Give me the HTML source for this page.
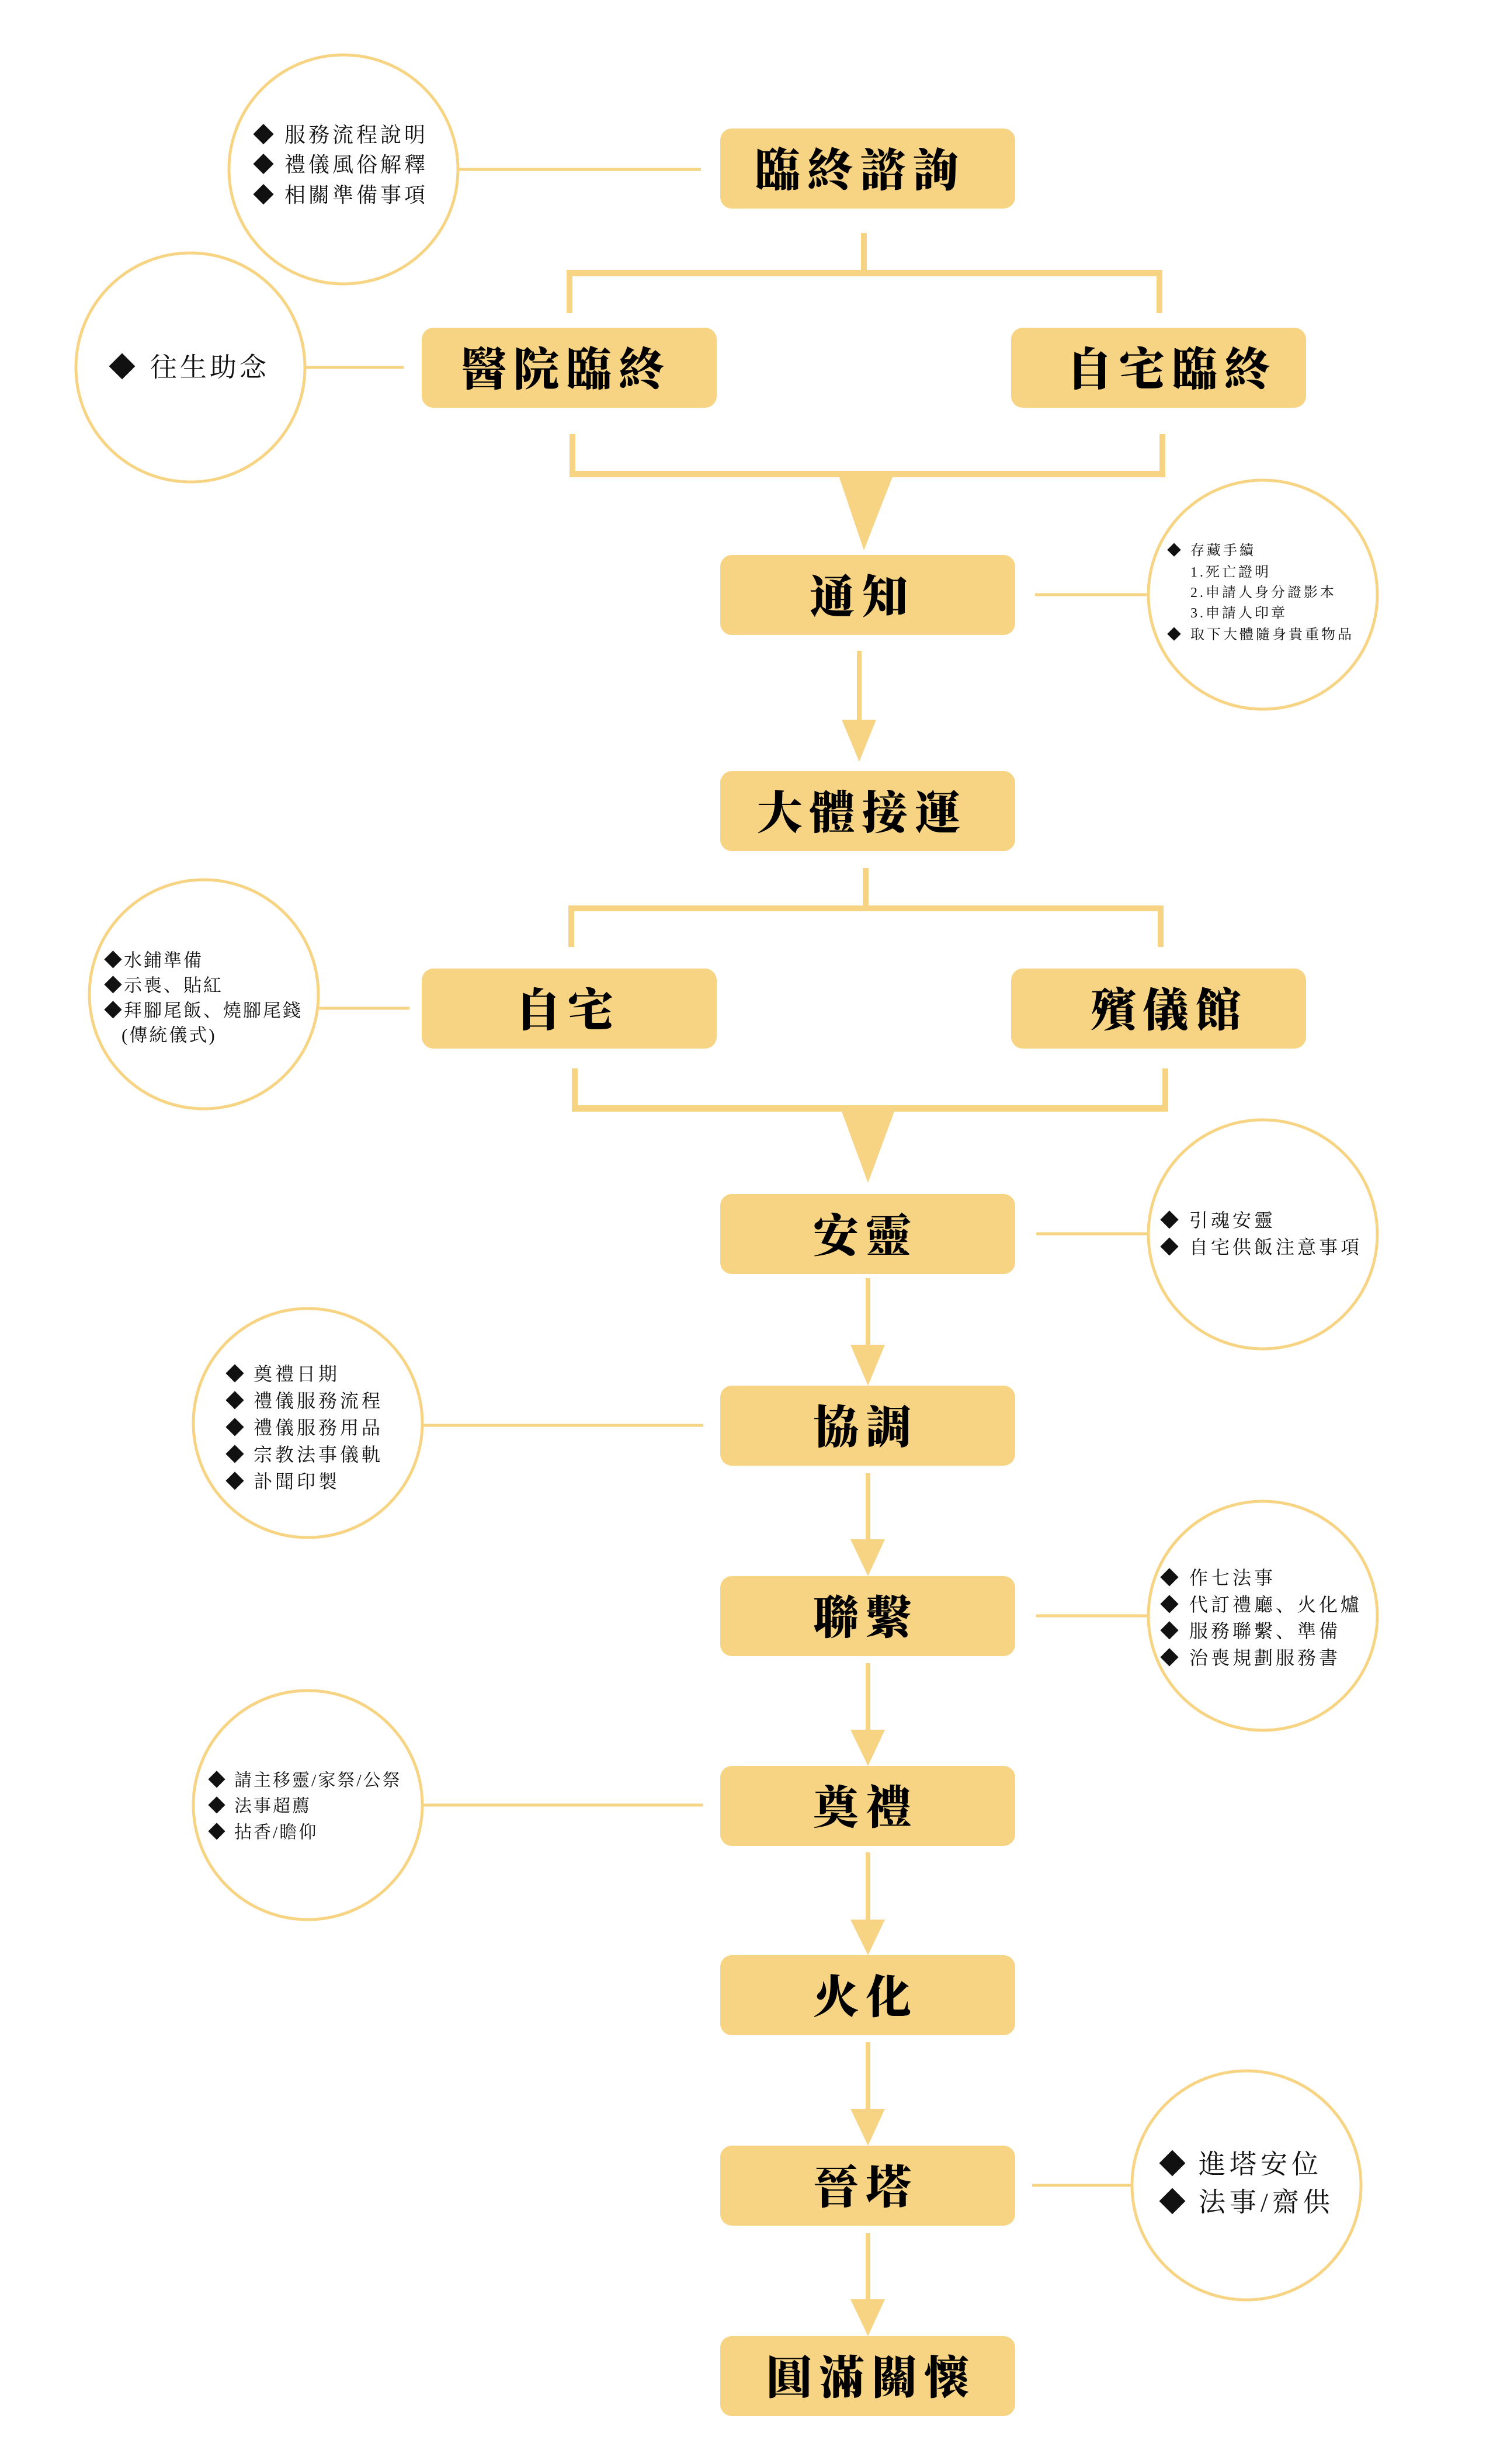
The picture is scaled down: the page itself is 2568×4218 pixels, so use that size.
<!DOCTYPE html>
<html><head><meta charset="utf-8"><style>
html,body{margin:0;padding:0;background:#fff;}
svg{display:block;}
.b{font-family:"Liberation Serif","Noto Serif CJK SC","Noto Serif CJK TC",serif;font-weight:900;font-size:78px;fill:#000;}
.s{font-family:"Liberation Serif","Noto Serif CJK SC","Noto Serif CJK TC",serif;fill:#111;}
</style></head><body>
<svg width="2568" height="4218" viewBox="0 0 2568 4218" xmlns="http://www.w3.org/2000/svg">
<g fill="#F7D483">
<rect x="1233" y="220" width="505" height="137" rx="20"/>
<rect x="722" y="561" width="505" height="137" rx="20"/>
<rect x="1731" y="561" width="505" height="137" rx="20"/>
<rect x="1233" y="950" width="505" height="137" rx="20"/>
<rect x="1233" y="1320" width="505" height="137" rx="20"/>
<rect x="722" y="1658" width="505" height="137" rx="20"/>
<rect x="1731" y="1658" width="505" height="137" rx="20"/>
<rect x="1233" y="2044" width="505" height="137" rx="20"/>
<rect x="1233" y="2372" width="505" height="137" rx="20"/>
<rect x="1233" y="2698" width="505" height="137" rx="20"/>
<rect x="1233" y="3023" width="505" height="137" rx="20"/>
<rect x="1233" y="3347" width="505" height="137" rx="20"/>
<rect x="1233" y="3673" width="505" height="137" rx="20"/>
<rect x="1233" y="3999" width="505" height="137" rx="20"/>
<rect x="1474" y="399" width="10" height="68"/>
<rect x="970" y="462" width="1020" height="11"/>
<rect x="970" y="462" width="10" height="74"/>
<rect x="1980" y="462" width="10" height="74"/>
<rect x="975" y="743" width="10" height="74"/>
<rect x="1985" y="743" width="10" height="74"/>
<rect x="975" y="806" width="1020" height="11"/>
<polygon points="1433,806 1532,806 1479,942"/>
<rect x="1477" y="1486" width="10" height="70"/>
<rect x="973" y="1550" width="1019" height="10"/>
<rect x="973" y="1550" width="10" height="71"/>
<rect x="1982" y="1550" width="10" height="71"/>
<rect x="979" y="1829" width="10" height="74"/>
<rect x="1990" y="1829" width="10" height="74"/>
<rect x="979" y="1892" width="1021" height="11"/>
<polygon points="1437,1892 1535,1892 1486,2025"/>
<rect x="1467" y="1114" width="8" height="122"/><polygon points="1441,1232 1500,1232 1471,1304"/>
<rect x="1482" y="2188" width="8" height="118"/><polygon points="1456,2302 1515,2302 1486,2372"/>
<rect x="1482" y="2522" width="8" height="117"/><polygon points="1456,2635 1515,2635 1486,2698"/>
<rect x="1482" y="2847" width="8" height="118"/><polygon points="1456,2961 1515,2961 1486,3023"/>
<rect x="1482" y="3171" width="8" height="119"/><polygon points="1456,3286 1515,3286 1486,3347"/>
<rect x="1482" y="3496" width="8" height="118"/><polygon points="1456,3610 1515,3610 1486,3673"/>
<rect x="1482" y="3823" width="8" height="117"/><polygon points="1456,3936 1515,3936 1486,3999"/>
</g>
<g stroke="#F7D483" stroke-width="5" fill="none">
<circle cx="588" cy="290" r="196"/>
<circle cx="326" cy="629" r="196"/>
<circle cx="2162" cy="1018" r="196"/>
<circle cx="349" cy="1702" r="196"/>
<circle cx="2162" cy="2113" r="196"/>
<circle cx="527" cy="2436" r="196"/>
<circle cx="2162" cy="2766" r="196"/>
<circle cx="527" cy="3090" r="196"/>
<circle cx="2134" cy="3741" r="196"/>
<line x1="784" y1="290" x2="1200" y2="290"/>
<line x1="522" y1="629" x2="691" y2="629"/>
<line x1="1772" y1="1018" x2="1966" y2="1018"/>
<line x1="545" y1="1726" x2="701" y2="1726"/>
<line x1="1774" y1="2112" x2="1966" y2="2112"/>
<line x1="724" y1="2440" x2="1204" y2="2440"/>
<line x1="1774" y1="2766" x2="1966" y2="2766"/>
<line x1="724" y1="3090" x2="1204" y2="3090"/>
<line x1="1767" y1="3741" x2="1938" y2="3741"/>
</g>
<g class="b" text-anchor="middle" dominant-baseline="central" letter-spacing="12">
<text x="1472" y="292">臨終諮詢</text>
<text x="969" y="633">醫院臨終</text>
<text x="2006" y="633">自宅臨終</text>
<text x="1476" y="1022">通知</text>
<text x="1476" y="1392">大體接運</text>
<text x="972" y="1730">自宅</text>
<text x="2002" y="1730">殯儀館</text>
<text x="1482" y="2116">安靈</text>
<text x="1482" y="2444">協調</text>
<text x="1482" y="2770">聯繫</text>
<text x="1482" y="3095">奠禮</text>
<text x="1482" y="3419">火化</text>
<text x="1482" y="3745">晉塔</text>
<text x="1492" y="4071">圓滿關懷</text>
</g>
<g class="s" dominant-baseline="central">
<g font-size="36" letter-spacing="5">
<text x="433" y="231">◆</text><text x="487" y="231">服務流程說明</text>
<text x="433" y="282">◆</text><text x="487" y="282">禮儀風俗解釋</text>
<text x="433" y="334">◆</text><text x="487" y="334">相關準備事項</text>
</g>
<g font-size="46" letter-spacing="5">
<text x="186" y="629">◆</text><text x="257" y="629">往生助念</text>
</g>
<g font-size="24" letter-spacing="4">
<text x="1998" y="943">◆</text><text x="2038" y="943">存藏手續</text>
<text x="2038" y="980">1.死亡證明</text>
<text x="2038" y="1015">2.申請人身分證影本</text>
<text x="2038" y="1050">3.申請人印章</text>
<text x="1998" y="1087">◆</text><text x="2038" y="1087">取下大體隨身貴重物品</text>
</g>
<g font-size="31" letter-spacing="3">
<text x="178" y="1644">◆水鋪準備</text>
<text x="178" y="1687">◆示喪、貼紅</text>
<text x="178" y="1730">◆拜腳尾飯、燒腳尾錢</text>
<text x="208" y="1772">(傳統儀式)</text>
</g>
<g font-size="32" letter-spacing="5">
<text x="1986" y="2089">◆</text><text x="2036" y="2089">引魂安靈</text>
<text x="1986" y="2135">◆</text><text x="2036" y="2135">自宅供飯注意事項</text>
<text x="386" y="2352">◆</text><text x="434" y="2352">奠禮日期</text>
<text x="386" y="2398">◆</text><text x="434" y="2398">禮儀服務流程</text>
<text x="386" y="2444">◆</text><text x="434" y="2444">禮儀服務用品</text>
<text x="386" y="2490">◆</text><text x="434" y="2490">宗教法事儀軌</text>
<text x="386" y="2536">◆</text><text x="434" y="2536">訃聞印製</text>
<text x="1986" y="2701">◆</text><text x="2036" y="2701">作七法事</text>
<text x="1986" y="2747">◆</text><text x="2036" y="2747">代訂禮廳、火化爐</text>
<text x="1986" y="2792">◆</text><text x="2036" y="2792">服務聯繫、準備</text>
<text x="1986" y="2838">◆</text><text x="2036" y="2838">治喪規劃服務書</text>
</g>
<g font-size="30" letter-spacing="3">
<text x="356" y="3048">◆</text><text x="401" y="3048">請主移靈/家祭/公祭</text>
<text x="356" y="3092">◆</text><text x="401" y="3092">法事超薦</text>
<text x="356" y="3137">◆</text><text x="401" y="3137">拈香/瞻仰</text>
</g>
<g font-size="46" letter-spacing="7">
<text x="1984" y="3705">◆</text><text x="2052" y="3705">進塔安位</text>
<text x="1984" y="3770">◆</text><text x="2052" y="3770">法事/齋供</text>
</g>
</g>
</svg>
</body></html>
